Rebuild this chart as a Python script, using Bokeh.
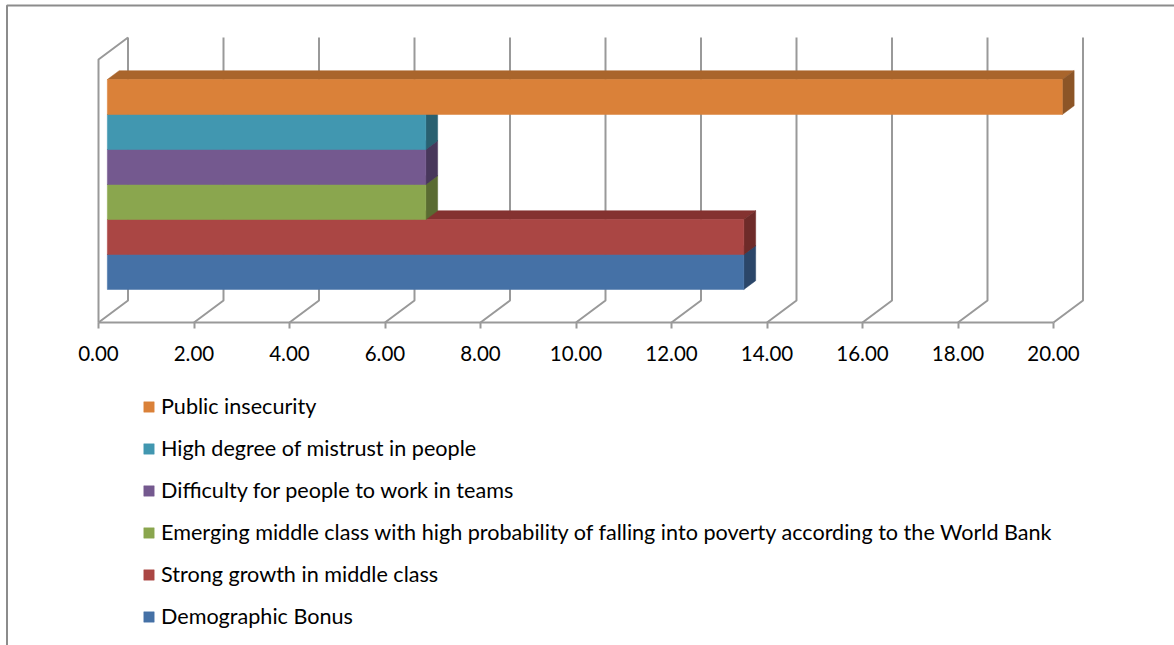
from bokeh.embed import file_html
from bokeh.models import ColumnDataSource, FixedTicker, Legend, LegendItem, LinearAxis, NumeralTickFormatter, Range1d
from bokeh.plotting import figure
from bokeh.resources import INLINE

# Survey shares per factor, listed from the bottom band upwards.
categories = [
    "Demographic Bonus",
    "Strong growth in middle class",
    "Emerging middle class with high probability of falling into poverty according to the World Bank",
    "Difficulty for people to work in teams",
    "High degree of mistrust in people",
    "Public insecurity",
]
values = [13.33, 13.33, 6.67, 6.67, 6.67, 20.00]
front_colors = ["#4571a6", "#aa4644", "#8aa64e", "#74598f", "#4197b0", "#da8139"]
top_colors = ["#365880", "#843230", "#6b813c", "#5a456f", "#327589", "#a9652c"]
side_colors = ["#2b4669", "#6e2b29", "#5a6b32", "#48375b", "#296070", "#8c5527"]
tick_values = [0, 2, 4, 6, 8, 10, 12, 14, 16, 18, 20]

WIDTH, HEIGHT = 1174, 645
UNIT_PX = 47.75          # pixels per value unit
BAND_PX = 35.0           # pixels per category band
ORIGIN_PX = 98.0         # horizontal position of value zero on the front edge
BAND0_PX = 289.0         # vertical position of the lowest band's front edge

# Oblique projection of the box: full depth of the walls, in data units.
DEPTH_X = 29.5 / UNIT_PX
DEPTH_Y = 22.0 / BAND_PX
FLOOR_Y = -33.0 / BAND_PX
WALL_TOP_Y = 252.0 / BAND_PX
BAR_NEAR = 0.30
BAR_FAR = 0.70

GRID = "#999999"
GRID_WIDTH = 2

p = figure(
    width=WIDTH, height=HEIGHT, output_backend="svg", toolbar_location=None,
    x_range=Range1d(-ORIGIN_PX / UNIT_PX, (WIDTH - ORIGIN_PX) / UNIT_PX),
    y_range=Range1d((BAND0_PX - HEIGHT) / BAND_PX, BAND0_PX / BAND_PX),
    x_axis_type=None, y_axis_type=None,
    min_border=0, outline_line_color=None,
    background_fill_color="white", border_fill_color="white",
)
p.grid.visible = False


def project(value, y, depth):
    """Map a value, height and depth fraction onto the oblique plane."""
    return value + depth * DEPTH_X, y + (depth - BAR_NEAR) * DEPTH_Y


# Near edge of the side wall, then every wall gridline with its floor run.
p.line([0, 0, DEPTH_X], [FLOOR_Y, WALL_TOP_Y - DEPTH_Y, WALL_TOP_Y],
       line_color=GRID, line_width=GRID_WIDTH)
for tick in tick_values:
    xs = [tick, tick + DEPTH_X, tick + DEPTH_X]
    ys = [FLOOR_Y, FLOOR_Y + DEPTH_Y, WALL_TOP_Y]
    p.line(xs, ys, line_color=GRID, line_width=GRID_WIDTH)

# Boxes are painted bottom band first, so upper bands cover lower tops.
fronts = []
for band, value in enumerate(values):
    x0, y0 = project(0, band, BAR_NEAR)
    x1, y1 = project(value, band + 1, BAR_NEAR)
    bx0, by0 = project(0, band, BAR_FAR)
    bx1, by1 = project(value, band + 1, BAR_FAR)
    by0 = y0 + (by1 - y1)
    p.patch([x0, x1, bx1, bx0], [y1, y1, by1, by1],
            fill_color=top_colors[band], line_color=top_colors[band], line_width=0.5)
    p.patch([x1, bx1, bx1, x1], [y0, by0, by1, y1],
            fill_color=side_colors[band], line_color=side_colors[band], line_width=0.5)
    src = ColumnDataSource(dict(left=[x0], right=[x1], bottom=[y0], top=[y1]))
    fronts.append(p.quad(left="left", right="right", bottom="bottom", top="top", source=src,
                         fill_color=front_colors[band], line_color=front_colors[band], line_width=0.5))

# Value axis runs along the front floor edge, inside the frame.
axis = LinearAxis(
    ticker=FixedTicker(ticks=tick_values),
    formatter=NumeralTickFormatter(format="0.00"),
    fixed_location=FLOOR_Y,
    bounds=(tick_values[0], tick_values[-1]),
    axis_line_color=GRID, axis_line_width=GRID_WIDTH,
    major_tick_line_color=GRID, major_tick_line_width=GRID_WIDTH,
    major_tick_in=0, major_tick_out=6,
    minor_tick_line_color=None,
    major_label_text_font="Lato", major_label_text_font_size="20.5px",
    major_label_text_color="#000000", major_label_standoff=17,
)
p.add_layout(axis, "below")

legend = Legend(
    items=[LegendItem(label=categories[i], renderers=[fronts[i]]) for i in range(5, -1, -1)],
    location=(142, 16),
    orientation="vertical",
    background_fill_alpha=0, border_line_color=None,
    label_text_font="Lato", label_text_font_size="21.6px", label_text_color="#000000",
    glyph_width=13, glyph_height=13, label_standoff=6,
    spacing=16, padding=8, margin=0, label_height=22,
)
p.add_layout(legend, "center")

# Chart area border, left and top only within the page.
left_x = (6.5 - ORIGIN_PX) / UNIT_PX
top_y = (BAND0_PX - 5) / BAND_PX
p.line([left_x, left_x, (WIDTH - ORIGIN_PX) / UNIT_PX],
       [(BAND0_PX - HEIGHT) / BAND_PX, top_y, top_y],
       line_color="#8c8c8c", line_width=2)

open("out.html", "w").write(file_html(p, INLINE))
